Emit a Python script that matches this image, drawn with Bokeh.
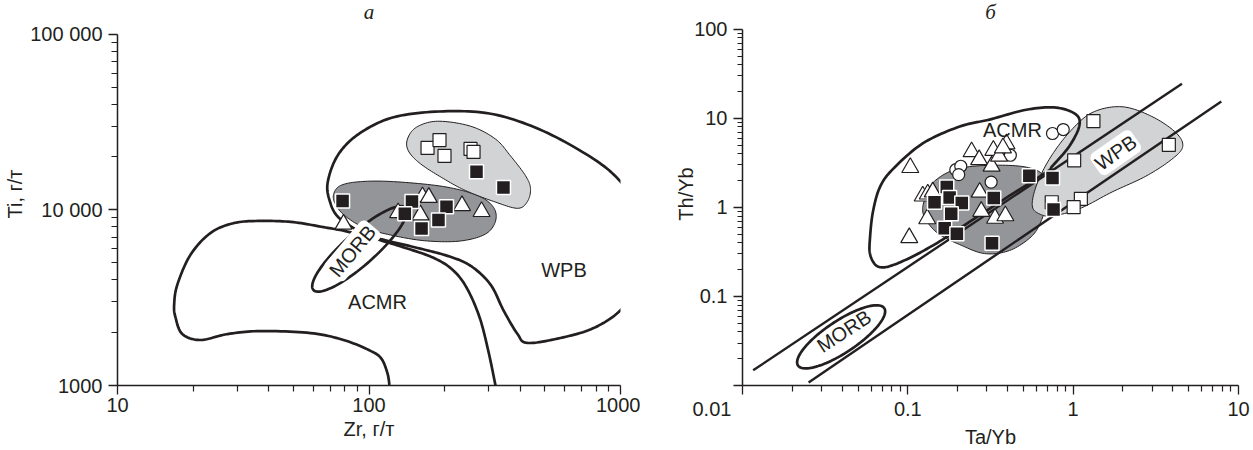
import numpy as np
from bokeh.plotting import figure
from bokeh.layouts import row
from bokeh.models import Range1d, FixedTicker, Label
from bokeh.embed import file_html
from bokeh.resources import INLINE

INK = "#231f20"
DARK = "#939598"
LIGHT = "#d1d3d4"
FONT = "Liberation Sans"

# ---------------- Panel "а": Zr (g/t) vs Ti (g/t) ----------------
a_open_sq_zr = [170.9, 190.7, 199.6, 253.3, 260.4]
a_open_sq_ti = [22500, 24950, 20280, 22210, 21360]
a_fill_sq_zr = [267.6, 342.5, 78.5, 148.2, 203.3, 138.8, 188.9, 161.8]
a_fill_sq_ti = [16480, 13390, 11240, 11170, 10420, 9495, 8760, 7816]
a_tri_zr = [163.2, 172.9, 234.3, 280.2, 130.5, 160.2, 79.2]
a_tri_ti = [11870, 11760, 10560, 9770, 9620, 9350, 8285]

# field boundaries (vertices of the outlines)
a_acmr_zr = [120.6, 118.5, 112.1, 101.4, 79.2, 58.5, 37.0, 27.4, 21.4, 18.1, 17.0, 16.8, 17.3, 19.5,
             23.4, 28.9, 37.0, 50.1, 65.9, 80.6, 103.2, 139.7, 180.5, 214.8, 244.2, 275.1, 298.7, 318.4]
a_acmr_ti = [1000, 1169, 1419, 1575, 1816, 1989, 2041, 1963, 1816, 1963, 2447, 2897, 3754, 5542,
             7372, 8393, 8648, 8504, 7968, 7565, 6909, 6068, 5331, 4562, 3612, 2447, 1554, 1000]
a_wpb_zr = [111.1, 155.9, 205.1, 253.3, 304.2, 342.5, 389.5, 426.8, 577, 781, 1000, 1168, 1235, 1168,
            1000, 781, 494, 312.6, 197.8, 125.2, 90.9, 74.9, 68.4, 70.3, 74.9, 84.4, 96.9]
a_wpb_ti = [6820, 6068, 5470, 4805, 3754, 2680, 1963, 1747, 1864, 2122, 2680, 3754, 6310, 10200,
            14470, 19500, 28050, 34980, 36360, 33640, 26980, 20280, 14100, 10880, 9192, 8072, 7278]
a_light_zr = [142.2, 154.5, 187.3, 253.3, 318.4, 365.2, 419.1, 438.7, 426.8, 389.5, 312.6, 241.9, 197.8, 160.2, 143.5]
a_light_ti = [25280, 29540, 31930, 29930, 25280, 20280, 15640, 13220, 11170, 10200, 11170, 12880, 15050, 18280, 21630]
a_dark_zr = [72.3, 77.0, 92.5, 125.2, 197.8, 270.1, 312.6, 318.4, 290.5, 231.1, 170.9, 127.5, 96.9, 80.6, 73.6]
a_dark_ti = [12230, 13740, 14470, 14470, 13570, 12070, 10330, 8616, 7278, 6646, 6646, 7091, 7866, 9192, 10740]
# MORB ellipse: centre and conjugate semi-axes (in decades)
a_morb_centre = (91.7, 5990)
a_morb_axes = (0.1833, 0.2338, 0.0425, -0.0670)

# ---------------- Panel "б": Ta/Yb vs Th/Yb ----------------
b_open_sq_x = [1.326, 3.79, 1.014, 1.113, 1.007, 0.742]
b_open_sq_y = [9.32, 5.03, 3.38, 1.244, 1.005, 1.143]
b_fill_sq_x = [0.543, 0.750, 0.761, 0.331, 0.323, 0.172, 0.145, 0.179, 0.212, 0.183, 0.167, 0.198]
b_fill_sq_y = [2.26, 2.14, 0.945, 1.276, 0.397, 1.69, 1.14, 1.29, 1.12, 0.846, 0.583, 0.507]
b_circ_x = [0.750, 0.871, 0.417, 0.195, 0.209, 0.203, 0.319]
b_circ_y = [6.76, 7.49, 3.85, 2.65, 2.90, 2.33, 1.92]
b_tri_x = [0.1035, 0.102, 0.123, 0.132, 0.1415, 0.131, 0.243, 0.270, 0.321, 0.329, 0.356, 0.395,
           0.376, 0.272, 0.278, 0.337, 0.389]
b_tri_y = [2.80, 0.457, 1.34, 1.41, 1.49, 0.744, 4.21, 3.43, 2.90, 4.37, 3.75, 5.17,
           4.66, 1.48, 0.902, 0.754, 0.804]

b_acmr_x = [0.0590, 0.0615, 0.0678, 0.0812, 0.123, 0.206, 0.312, 0.521, 0.790, 1.043, 1.087, 0.946,
            0.747, 0.688, 0.339, 0.169, 0.136, 0.107, 0.0835, 0.0707, 0.0633, 0.0590]
b_acmr_y = [0.446, 0.891, 1.69, 2.69, 5.23, 8.09, 9.69, 12.5, 13.2, 11.0, 8.09, 4.84,
            2.90, 2.49, 1.07, 0.457, 0.358, 0.281, 0.229, 0.212, 0.229, 0.303]
b_light_x = [0.566, 0.598, 0.717, 0.946, 1.302, 1.973, 2.99, 4.17, 4.60, 3.95, 2.75, 1.72, 1.087, 0.747, 0.624]
b_light_y = [1.04, 1.74, 3.47, 6.94, 11.6, 13.5, 10.5, 6.94, 4.84, 3.47, 2.24, 1.49, 0.962, 0.804, 0.846]
b_dark_x = [0.123, 0.128, 0.145, 0.197, 0.312, 0.521, 0.669, 0.688, 0.641, 0.558, 0.412, 0.291, 0.206, 0.156, 0.132]
b_dark_y = [0.914, 1.31, 1.97, 2.69, 2.97, 2.83, 2.19, 1.15, 0.707, 0.469, 0.328, 0.303, 0.382, 0.494, 0.672]
b_upper_x = [0.0116, 4.55]
b_upper_y = [0.0148, 24.4]
b_lower_x = [0.0251, 7.87]
b_lower_y = [0.0108, 15.5]
b_morb_centre = (0.0395, 0.0352)
b_morb_axes = (0.2608, 0.322, 0.0535, -0.1483)

NBSP = "\u00a0"


def smooth(xs, ys, closed=False, n=12):
    P = np.column_stack([np.log10(xs), np.log10(ys)])
    if closed:
        P = np.vstack([P[-1], P, P[0], P[1]])
    else:
        P = np.vstack([P[0], P, P[-1]])
    out = []
    for i in range(1, len(P) - 2):
        p0, p1, p2, p3 = P[i - 1], P[i], P[i + 1], P[i + 2]
        for t in np.linspace(0, 1, n, endpoint=False):
            t2, t3 = t * t, t * t * t
            out.append(0.5 * (2 * p1 + (-p0 + p2) * t + (2 * p0 - 5 * p1 + 4 * p2 - p3) * t2
                              + (-p0 + 3 * p1 - 3 * p2 + p3) * t3))
    out.append(out[0] if closed else P[-2])
    out = np.array(out)
    return 10 ** out[:, 0], 10 ** out[:, 1]


def ellipse(centre, axes, n=120):
    t = np.linspace(0, 2 * np.pi, n)
    ax, ay, bx, by = axes
    lx = np.log10(centre[0]) + ax * np.cos(t) + bx * np.sin(t)
    ly = np.log10(centre[1]) + ay * np.cos(t) + by * np.sin(t)
    return 10 ** lx, 10 ** ly


def make_fig(xr, yr, y_top, w, h, bl, br, bb):
    # the frame reaches above the top tick so that the panel letter can sit inside it;
    # the y axis itself is bounded to the data range
    p = figure(width=w, height=h, x_axis_type="log", y_axis_type="log",
               x_range=Range1d(*xr), y_range=Range1d(yr[0], y_top),
               output_backend="svg", toolbar_location=None,
               min_border_left=bl, min_border_right=br, min_border_top=2, min_border_bottom=bb)
    p.grid.visible = False
    p.outline_line_color = None
    p.background_fill_color = "white"
    p.border_fill_color = "white"
    p.yaxis[0].bounds = yr
    for ax in (p.xaxis[0], p.yaxis[0]):
        ax.axis_line_color = INK
        ax.axis_line_width = 1.5
        ax.major_tick_line_color = INK
        ax.major_tick_line_width = 1.3
        ax.major_tick_out = 9
        ax.major_tick_in = 0
        ax.minor_tick_line_color = INK
        ax.minor_tick_line_width = 1.2
        ax.minor_tick_out = 6
        ax.minor_tick_in = 0
        ax.major_label_text_font = FONT
        ax.major_label_text_font_size = "20px"
        ax.major_label_text_color = INK
        ax.axis_label_text_font = FONT
        ax.axis_label_text_font_size = "20px"
        ax.axis_label_text_font_style = "normal"
        ax.axis_label_text_color = INK
    p.xaxis[0].major_label_standoff = 3
    p.xaxis[0].axis_label_standoff = 3
    p.yaxis[0].major_label_standoff = 6
    return p


def decade_ticks(lo, hi):
    majors = [10.0 ** e for e in range(lo, hi + 1)]
    minors = [m * 10.0 ** e for e in range(lo, hi) for m in range(2, 10)]
    return FixedTicker(ticks=majors, minor_ticks=minors)


def fill_region(p, xs, ys, color):
    sx, sy = smooth(xs, ys, closed=True)
    p.patch(sx, sy, fill_color=color, line_color=INK, line_width=1)


def boundary(p, xs, ys, closed=False, width=2.7):
    sx, sy = smooth(xs, ys, closed=closed)
    p.line(sx, sy, line_color=INK, line_width=width, line_join="round")


def markers(p, sq_open, sq_fill, tri, circ=None):
    if circ is not None:
        p.scatter(circ[0], circ[1], marker="circle", size=12, fill_color="white",
                  line_color=INK, line_width=1.2)
    p.scatter(tri[0], tri[1], marker="triangle", size=17, fill_color="white",
              line_color=INK, line_width=1.2)
    p.scatter(sq_open[0], sq_open[1], marker="square", size=13, fill_color="white",
              line_color=INK, line_width=1.2)
    p.scatter(sq_fill[0], sq_fill[1], marker="square", size=14, fill_color=INK,
              line_color="white", line_width=1.5)


def text_label(p, x, y, text, angle=0.0, bg=None):
    lab = Label(x=x, y=y, text=text, angle=angle, angle_units="deg",
                text_font=FONT, text_font_size="20px", text_color=INK,
                text_align="center", text_baseline="middle")
    if bg:
        lab.background_fill_color = bg
        lab.padding = 2
        lab.border_radius = 6
    p.add_layout(lab)


def panel_letter(p, x, y, text, up):
    p.add_layout(Label(x=x, y=y, y_offset=up, text=text,
                       text_font="Liberation Serif", text_font_style="italic",
                       text_font_size="21px", text_color=INK,
                       text_align="center", text_baseline="middle"))


# ---------------- panel а ----------------
pa = make_fig((10, 1000), (1000, 100000), 151400, 640, 450, 117, 20, 61)
pa.xaxis[0].ticker = decade_ticks(1, 3)
pa.yaxis[0].ticker = decade_ticks(3, 5)
pa.xaxis[0].major_label_overrides = {10: "10", 100: "100", 1000: "1000"}
pa.yaxis[0].major_label_overrides = {1000: "1000", 10000: "10 000", 100000: "100 000"}
pa.xaxis[0].axis_label = "Zr, г/т"
pa.yaxis[0].axis_label = "Ti, г/т"
pa.yaxis[0].axis_label_standoff = 1

fill_region(pa, a_dark_zr, a_dark_ti, DARK)
fill_region(pa, a_light_zr, a_light_ti, LIGHT)
boundary(pa, a_acmr_zr, a_acmr_ti)
boundary(pa, a_wpb_zr, a_wpb_ti, closed=True)
ex, ey = ellipse(a_morb_centre, a_morb_axes)
pa.line(ex, ey, line_color=INK, line_width=2.7)
markers(pa, (a_open_sq_zr, a_open_sq_ti), (a_fill_sq_zr, a_fill_sq_ti), (a_tri_zr, a_tri_ti))
text_label(pa, 86.0, 5836, "MORB", angle=50, bg="white")
text_label(pa, 108.1, 2973, "ACMR")
text_label(pa, 596, 4562, "WPB")
panel_letter(pa, 100, 100000, "а", 22)

# ---------------- panel б ----------------
pb = make_fig((0.01, 10), (0.01, 100), 200, 613, 450, 102, 15, 62)
pb.xaxis[0].ticker = decade_ticks(-2, 1)
pb.yaxis[0].ticker = decade_ticks(-2, 2)
pb.xaxis[0].major_label_overrides = {0.01: "0.01" + NBSP * 11, 0.1: "0.1", 1: "1", 10: "10"}
pb.yaxis[0].major_label_overrides = {0.01: "", 0.1: "0.1", 1: "1", 10: "10", 100: "100"}
pb.xaxis[0].axis_label = "Ta/Yb"
pb.yaxis[0].axis_label = "Th/Yb"
pb.yaxis[0].axis_label_standoff = -6
pb.yaxis[0].minor_tick_out = 5

fill_region(pb, b_dark_x, b_dark_y, DARK)
fill_region(pb, b_light_x, b_light_y, LIGHT)
pb.line(b_upper_x, b_upper_y, line_color=INK, line_width=2.4)
pb.line(b_lower_x, b_lower_y, line_color=INK, line_width=2.4)
boundary(pb, b_acmr_x, b_acmr_y, closed=True)
ex, ey = ellipse(b_morb_centre, b_morb_axes)
pb.line(ex, ey, line_color=INK, line_width=2.7)
markers(pb, (b_open_sq_x, b_open_sq_y), (b_fill_sq_x, b_fill_sq_y), (b_tri_x, b_tri_y),
        circ=(b_circ_x, b_circ_y))
text_label(pb, 0.0411, 0.0407, "MORB", angle=33)
text_label(pb, 0.429, 7.40, "ACMR")
text_label(pb, 1.81, 4.12, "WPB", angle=35, bg="white")
panel_letter(pb, 0.316, 100, "б", 17)

layout = row(pa, pb)
open("out.html", "w").write(file_html(layout, INLINE))
